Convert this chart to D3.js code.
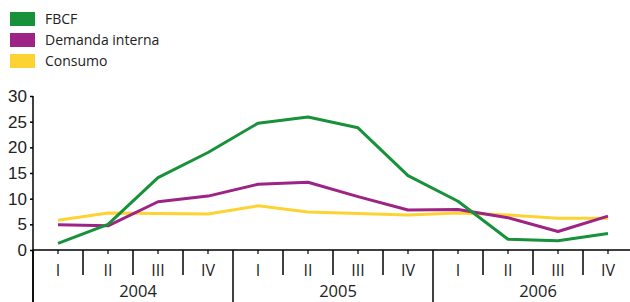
<!DOCTYPE html>
<html>
<head>
<meta charset="utf-8">
<script src="https://cdn.jsdelivr.net/npm/d3@7"></script>
<style>
  body { margin: 0; background: #fff; }
  svg { display: block; font-family: "Open Sans", sans-serif; }
</style>
</head>
<body>
<svg width="630" height="302"></svg>
<script>
var years = ['2004', '2005', '2006'];
var quarters = ['I', 'II', 'III', 'IV'];
var fbcf = [1.3, 5.0, 14.1, 19.0, 24.7, 25.9, 23.8, 14.5, 9.5, 2.1, 1.8, 3.2];
var demanda = [4.9, 4.7, 9.4, 10.5, 12.8, 13.2, 10.4, 7.8, 7.9, 6.3, 3.6, 6.6];
var consumo = [5.8, 7.2, 7.1, 7.0, 8.6, 7.4, 7.1, 6.8, 7.2, 6.8, 6.2, 6.2];
var yTicks = [0, 5, 10, 15, 20, 25, 30];

var series = [
    {name: 'FBCF', values: fbcf, color: '#17923a'},
    {name: 'Demanda interna', values: demanda, color: '#9d2484'},
    {name: 'Consumo', values: consumo, color: '#fdd333'}
];

// one slot per quarter, labelled like "2004-I"
var slots = [];
years.forEach(y => quarters.forEach(q => slots.push(y + '-' + q)));

var svg = d3.select('svg');
var x = d3.scaleBand().domain(slots).range([33, 633]);
var y = d3.scaleLinear().domain([0, 30]).range([250, 96]);

// y axis
var yAxis = svg.append('g')
    .attr('transform', 'translate(33,0)')
    .call(d3.axisLeft(y).tickValues(yTicks).tickSize(3).tickPadding(3));
yAxis.select('.domain').remove();
yAxis.selectAll('line').attr('stroke', '#000').attr('stroke-width', 1.5);
yAxis.selectAll('text').attr('font-size', 17).attr('fill', '#222');
svg.append('line')
    .attr('x1', 33).attr('x2', 33).attr('y1', 96).attr('y2', 302)
    .attr('stroke', '#000').attr('stroke-width', 1.5);

// x axis baseline
svg.append('line')
    .attr('x1', 33).attr('x2', 630).attr('y1', y(0)).attr('y2', y(0))
    .attr('stroke', '#000').attr('stroke-width', 1.5);

// small ticks at each quarter
svg.selectAll('.qtick').data(slots).enter().append('line')
    .attr('x1', d => x(d) + x.bandwidth() / 2)
    .attr('x2', d => x(d) + x.bandwidth() / 2)
    .attr('y1', y(0)).attr('y2', y(0) + 4)
    .attr('stroke', '#000').attr('stroke-width', 1.2);

// separators between quarters, longer at year boundaries
svg.selectAll('.sep').data(slots).enter().append('line')
    .attr('x1', d => x(d))
    .attr('x2', d => x(d))
    .attr('y1', y(0))
    .attr('y2', (d, i) => i % 4 === 0 ? 302 : y(0) + 25)
    .attr('stroke', '#000').attr('stroke-width', 1.5);

// quarter labels
svg.selectAll('.qlab').data(slots).enter().append('text')
    .attr('x', d => x(d) + x.bandwidth() / 2)
    .attr('y', 276)
    .attr('text-anchor', 'middle')
    .attr('font-size', 16).attr('fill', '#222')
    .text(d => d.split('-')[1]);

// year labels
svg.selectAll('.ylab').data(years).enter().append('text')
    .attr('x', d => (x(d + '-I') + x(d + '-IV') + x.bandwidth()) / 2 + 5)
    .attr('y', 297)
    .attr('text-anchor', 'middle')
    .attr('font-size', 16.5).attr('fill', '#222')
    .text(d => d);

// lines
var line = d3.line()
    .x((d, i) => x(slots[i]) + x.bandwidth() / 2)
    .y(d => y(d));
svg.selectAll('.series').data(series.slice().reverse()).enter().append('path')
    .attr('d', d => line(d.values))
    .attr('fill', 'none')
    .attr('stroke', d => d.color)
    .attr('stroke-width', 3)
    .attr('stroke-linejoin', 'round');

// legend
var legend = svg.selectAll('.legend').data(series).enter().append('g')
    .attr('transform', (d, i) => 'translate(10,' + (12 + i * 21) + ')');
legend.append('rect')
    .attr('width', 25).attr('height', 14)
    .attr('fill', d => d.color);
legend.append('text')
    .attr('x', 35).attr('y', 12)
    .attr('font-size', 14).attr('fill', '#222')
    .text(d => d.name);
</script>
</body>
</html>
